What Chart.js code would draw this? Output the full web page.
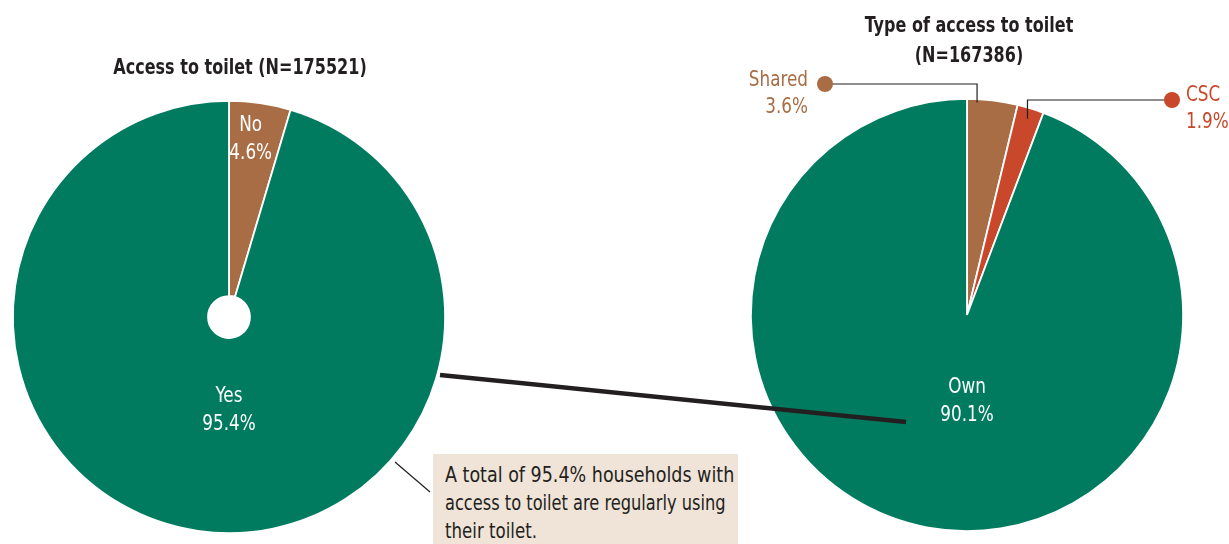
<!DOCTYPE html>
<html><head><meta charset="utf-8">
<script src="https://cdn.jsdelivr.net/npm/chart.js@4/dist/chart.umd.min.js"></script>
<style>
html,body{margin:0;padding:0;background:#fff;}
#wrap{position:relative;width:1229px;height:544px;overflow:hidden;font-family:"DejaVu Sans Condensed","DejaVu Sans",sans-serif;font-stretch:condensed;color:#231F20;}
canvas{position:absolute;left:0;top:0;}
.title{position:absolute;font-weight:bold;font-size:22px;text-align:center;line-height:30px;white-space:nowrap;transform:scaleX(0.81);transform-origin:50% 50%;}
#note{position:absolute;left:433px;top:454px;width:305px;height:90px;background:#F0E4D8;}
.nl{position:absolute;left:445px;font-size:22px;line-height:28px;white-space:nowrap;transform-origin:0 0;}
svg{position:absolute;left:0;top:0;}
</style></head>
<body><div id="wrap">
<canvas id="c1" width="1229" height="544"></canvas>
<canvas id="c2" width="1229" height="544"></canvas>
<div class="title" style="left:40px;width:400px;top:52px;">Access to toilet (N=175521)</div>
<div class="title" style="left:769px;width:400px;top:10px;">Type of access to toilet<br>(N=167386)</div>
<div id="note"></div>
<div class="nl" style="top:461px;transform:scaleX(0.885);">A total of 95.4% households with</div>
<div class="nl" style="top:489px;transform:scaleX(0.82);">access to toilet are regularly using</div>
<div class="nl" style="top:517px;transform:scaleX(0.84);">their toilet.</div>
<svg width="1229" height="544">
<line x1="440" y1="375" x2="906" y2="422" stroke="#231F20" stroke-width="4.5"/>
<line x1="395" y1="462" x2="430" y2="492" stroke="#231F20" stroke-width="1.2"/>
</svg>
</div>
<script>
const accessLabels = ['No', 'Yes'];
const accessValues = [4.6, 95.4];
const accessText = ['4.6%', '95.4%'];
const typeLabels = ['Shared', 'CSC', 'Own'];
const typeValues = [3.6, 1.9, 90.1];
const typeText = ['3.6%', '1.9%', '90.1%'];

const GREEN = '#007B5F', BROWN = '#A96D45', RED = '#C9472A';
const FONT = '"DejaVu Sans Condensed","DejaVu Sans",sans-serif';
const SX = 0.85;

function narrowText(ctx, txt, x, y) {
  ctx.save();
  ctx.translate(x, y);
  ctx.scale(SX, 1);
  ctx.fillText(txt, 0, 0);
  ctx.restore();
}

const labelPlugin = {
  id: 'sliceLabels',
  afterDatasetsDraw(chart, args, opts) {
    const ctx = chart.ctx;
    const meta = chart.getDatasetMeta(0);
    const labels = chart.data.labels;
    const texts = opts.texts;
    ctx.save();
    ctx.font = '22px ' + FONT;
    try { ctx.fontStretch = 'condensed'; } catch (e) {}
    meta.data.forEach((arc, i) => {
      const cfg = opts.items[i];
      if (!cfg) return;
      const p = arc.getProps(['x','y','startAngle','endAngle','outerRadius']);
      const frac = cfg.frac == null ? 0.5 : cfg.frac;
      const ang = cfg.angle != null ? (cfg.angle - 90) * Math.PI / 180 : p.startAngle + (p.endAngle - p.startAngle) * frac;
      const ax = p.x + Math.cos(ang) * p.outerRadius * cfg.r;
      const ay = p.y + Math.sin(ang) * p.outerRadius * cfg.r;
      if (cfg.type === 'inside') {
        ctx.fillStyle = '#fff';
        ctx.textAlign = 'center';
        ctx.textBaseline = 'middle';
        narrowText(ctx, labels[i], ax + (cfg.dx||0), ay - 14);
        narrowText(ctx, texts[i], ax, ay + 14);
      } else {
        const col = arc.options.backgroundColor;
        ctx.strokeStyle = '#231F20';
        ctx.lineWidth = 1.2;
        ctx.beginPath();
        ctx.moveTo(ax, ay);
        ctx.lineTo(ax, cfg.lineY);
        ctx.lineTo(cfg.dotX, cfg.lineY);
        ctx.stroke();
        ctx.fillStyle = col;
        ctx.beginPath();
        ctx.arc(cfg.dotX, cfg.lineY, 8, 0, Math.PI * 2);
        ctx.fill();
        ctx.textBaseline = 'middle';
        ctx.textAlign = cfg.side === 'left' ? 'right' : 'left';
        const tx = cfg.side === 'left' ? cfg.dotX - 17 : cfg.dotX + 14;
        narrowText(ctx, labels[i], tx, cfg.textY);
        narrowText(ctx, texts[i], tx, cfg.textY + 27);
      }
    });
    ctx.restore();
  }
};

const common = (padding) => ({
  responsive: false,
  animation: false,
  layout: { padding },
  plugins: { legend: { display: false }, tooltip: { enabled: false } }
});

new Chart(document.getElementById('c1'), {
  type: 'doughnut',
  data: { labels: accessLabels, datasets: [{ data: accessValues, backgroundColor: [BROWN, GREEN], borderColor: '#fff', borderWidth: 1.8 }] },
  options: Object.assign(common({ left: 12, top: 100, right: 783, bottom: 10 }), { cutout: '9.7%',
    plugins: { legend: { display: false }, tooltip: { enabled: false },
      sliceLabels: { texts: accessText, items: [
        { type: 'inside', r: 0.83, frac: 0.42 },
        { type: 'inside', r: 0.43, angle: 180 }
      ] } } }),
  plugins: [labelPlugin]
});

new Chart(document.getElementById('c2'), {
  type: 'pie',
  data: { labels: typeLabels, datasets: [{ data: typeValues, backgroundColor: [BROWN, RED, GREEN], borderColor: '#fff', borderWidth: 1.8 }] },
  options: Object.assign(common({ left: 749, top: 98, right: 44, bottom: 12 }), {
    plugins: { legend: { display: false }, tooltip: { enabled: false },
      sliceLabels: { texts: typeText, items: [
        { type: 'callout', r: 0.985, frac: 0.2, lineY: 84, dotX: 825, side: 'left', textY: 80 },
        { type: 'callout', r: 0.95, frac: 0.5, lineY: 100, dotX: 1172, side: 'right', textY: 95 },
        { type: 'inside', r: 0.40, angle: 180 }
      ] } } }),
  plugins: [labelPlugin]
});
</script>
</body></html>
